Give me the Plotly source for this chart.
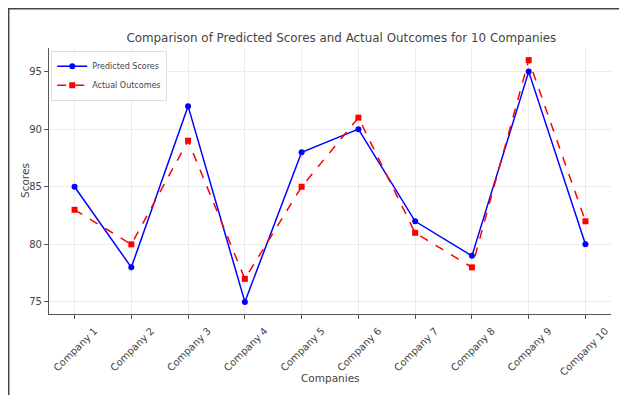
import plotly.graph_objects as go

companies = [f"Company {i}" for i in range(1, 11)]
predicted_scores = [85, 78, 92, 75, 88, 90, 82, 79, 95, 80]
actual_outcomes = [83, 80, 89, 77, 85, 91, 81, 78, 96, 82]
y_ticks = [75, 80, 85, 90, 95]

# page body has an 8px default margin, so work in figure coordinates
OFF = 8
W, H = 627 - OFF, 395 - OFF
L, R, T, B = 49 - OFF, 627 - 611, 48 - OFF, 395 - 314
pw, ph = W - L - R, H - T - B


def px_x(p):
    return (p - OFF - L) / pw


def px_y(p):
    return (H - B - (p - OFF)) / ph


fig = go.Figure()
fig.add_trace(go.Scatter(
    x=list(range(len(companies))), y=predicted_scores, name="Predicted Scores",
    mode="lines+markers", line=dict(color="#0000ff", width=1.5),
    marker=dict(symbol="circle", size=6, color="#0000ff"),
))
fig.add_trace(go.Scatter(
    x=list(range(len(companies))), y=actual_outcomes, name="Actual Outcomes",
    mode="lines+markers", line=dict(color="#ff0000", width=1.5, dash="dash"),
    marker=dict(symbol="square", size=6, color="#ff0000"),
))

font = "DejaVu Sans, sans-serif"
fig.update_layout(
    width=W, height=H,
    margin=dict(l=L, r=R, t=T, b=B, autoexpand=False),
    paper_bgcolor="white", plot_bgcolor="white",
    font=dict(family=font, color="#444444", size=10),
    title=dict(text="Comparison of Predicted Scores and Actual Outcomes for 10 Companies",
               x=(330 - OFF) / W, xanchor="center", xref="paper",
               y=1 - (38 - OFF) / H, yanchor="middle",
               font=dict(size=11.9, color="#444444", family=font), automargin=False),
    showlegend=True,
    legend=dict(x=0.004, y=0.99, xanchor="left", yanchor="top",
                bgcolor="rgba(255,255,255,0.9)", bordercolor="#dddddd", borderwidth=1,
                font=dict(size=8, color="#444444"), itemwidth=30,
                tracegroupgap=0),
    xaxis=dict(
        range=[-0.45, 9.45], tickmode="array",
        tickvals=list(range(len(companies))), ticktext=companies,
        tickangle=-45, showgrid=True, gridcolor="#ebebeb", gridwidth=1,
        showline=True, linecolor="#555555", linewidth=1.2,
        ticks="outside", ticklen=4, tickcolor="#555555",
        tickfont=dict(size=10), zeroline=False, automargin=False,
        ticklabelshift=20, ticklabelstandoff=2,
    ),
    yaxis=dict(
        range=[73.95, 97.05], tickmode="array", tickvals=y_ticks,
        showgrid=True, gridcolor="#ebebeb", gridwidth=1,
        showline=True, linecolor="#555555", linewidth=1.2,
        ticks="outside", ticklen=4, tickcolor="#555555",
        tickfont=dict(size=10), zeroline=False, automargin=False,
    ),
    annotations=[
        dict(text="Companies", xref="paper", yref="paper",
             x=px_x(330), y=px_y(378), xanchor="center", yanchor="middle",
             showarrow=False, font=dict(size=10.5, color="#444444")),
        dict(text="Scores", xref="paper", yref="paper",
             x=px_x(25), y=px_y(181), xanchor="center", yanchor="middle",
             textangle=-90, showarrow=False, font=dict(size=10.5, color="#444444")),
    ],
    shapes=[
        dict(type="line", xref="paper", yref="paper",
             x0=px_x(7), x1=px_x(660), y0=px_y(8.7), y1=px_y(8.7),
             line=dict(color="#444444", width=1.5)),
        dict(type="line", xref="paper", yref="paper",
             x0=px_x(8.7), x1=px_x(8.7), y0=px_y(8), y1=px_y(420),
             line=dict(color="#444444", width=1.5)),
    ],
)

fig.write_html("out.html")
